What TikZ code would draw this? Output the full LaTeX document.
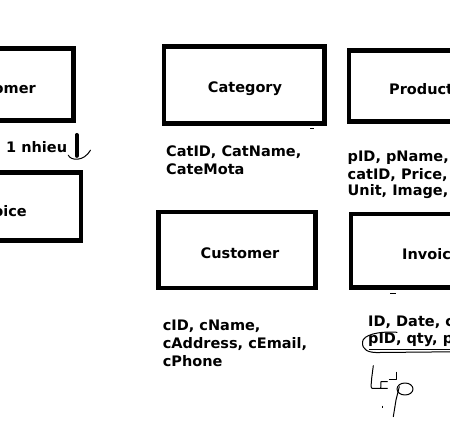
\documentclass[tikz,border=0pt]{standalone}
\usepackage{fontspec}
\setmainfont{DejaVu Sans}
\usetikzlibrary{positioning}

\begin{document}
\begin{tikzpicture}[
    x=1pt, y=-1pt,
    every node/.style={font=\fontsize{14.5}{18}\selectfont\bfseries, inner sep=0pt},
    entity/.style={draw, line width=4.5pt},
    attrs/.style={align=left, anchor=base west},
    scribble/.style={line width=1pt, line cap=round, line join=round}
  ]
\useasboundingbox (0,0) rectangle (450,433);
\clip (0,0) rectangle (450,433);

% entity boxes
\node[entity, minimum width=157pt, minimum height=72pt] (lcust) at (-5,84.7) {};
\node[entity, minimum width=174pt, minimum height=68pt] (linv) at (-6,206.6) {};
\node[entity, minimum width=160.5pt, minimum height=77pt] (cat) at (244.25,85) {};
\node[entity, minimum width=160pt, minimum height=71pt] (prod) at (429.2,86.1) {};
\node[entity, minimum width=157pt, minimum height=76pt] (cust) at (237,250) {};
\node[entity, minimum width=174pt, minimum height=73.5pt] (inv) at (438,250.75) {};

% entity names
\node[anchor=base east] (lcustname) at (36,93.3) {Customer};
\node[anchor=base east] (linvname) at (27,216.7) {Invoice};
\node[anchor=base] (catname) at (245,93) {Category};
\node[anchor=base west] (prodname) at (389,95) {Product};
\node[anchor=base] (custname) at (240,258.3) {Customer};
\node[anchor=base west] (invname) at (402,259.3) {Invoice};

% attributes (base = last line)
\node[attrs] (catattr) at (166,174.5) {CatID, CatName,\\CateMota};
\node[attrs, font=\fontsize{14.5}{17}\selectfont\bfseries] (prodattr) at (347.5,196) {pID, pName,\\catID, Price,\\Unit, Image,};
\node[attrs] (custattr) at (162.7,366) {cID, cName,\\cAddress, cEmail,\\cPhone};
\node[attrs, font=\fontsize{14.5}{17}\selectfont\bfseries] (invattr) at (368,343) {ID, Date, c\\pID, qty, p};
\draw[line width=1.6pt] (369,349.3) -- (452,349.3);

% relation Customer -> Invoice
\node[anchor=base west] (rel) at (6,152.7) {1 nhieu};
\coordinate (tip) at ([shift={(-6.5,-14.5)}]linv.north east);
\draw[line width=4pt, line cap=round] ([shift={(1,12)}]lcust.south east) -- (tip);
\draw[scribble] ([shift={(-8.5,-0.7)}]tip) .. controls ([shift={(-6,5)}]tip) and ([shift={(7,6)}]tip) .. ([shift={(13.8,-5.7)}]tip);

% stray marks
\draw[line width=1pt] (310,128.3) -- (313.5,128.3);
\draw[line width=1.8pt] (390,293.5) -- (396,293.5);

% hand drawn loop and note
\draw[scribble] (397,332.3) .. controls (378,331) and (363,335) .. (362.5,342)
  .. controls (362,350) and (368,353) .. (380,352.5) -- (452,351.8);
\draw[scribble] (373.3,365.7) -- (371.7,378) -- (371,386.7) -- (372,388.3) -- (380.7,388.3);
\draw[scribble] (387.3,381.7) -- (381,381.7) -- (380.7,388.3) -- (387.3,388.3);
\draw[scribble] (396,372.3) -- (396,379) -- (389.3,379);
\draw[scribble] (393.3,416.7) -- (396,400) -- (399.3,386.7);
\draw[scribble] (405,389) ellipse [x radius=8, y radius=6];
\draw[line width=1.2pt] (382.7,405.5) -- (382.7,408);
\end{tikzpicture}
\end{document}
